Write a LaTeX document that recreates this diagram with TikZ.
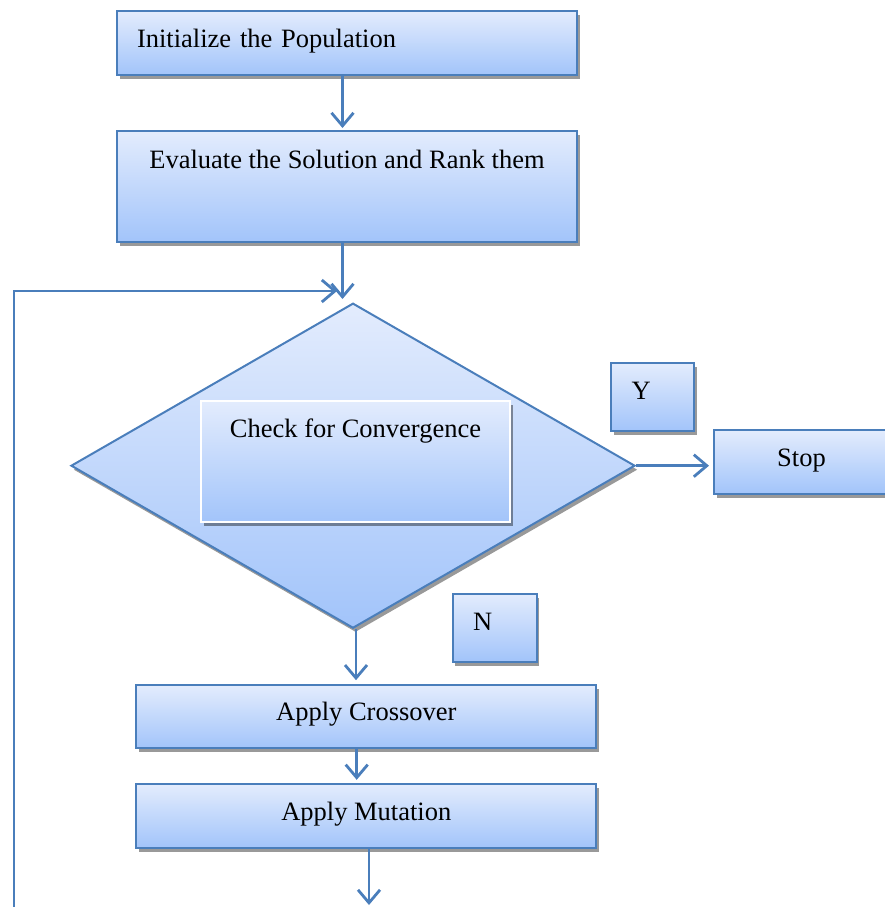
\documentclass[tikz,border=0pt]{standalone}
\usepackage{fontspec}
\setmainfont{Liberation Serif}
\usetikzlibrary{arrows.meta,shapes.geometric,shadows}
\definecolor{bord}{RGB}{74,126,187}
\definecolor{topc}{RGB}{227,236,253}
\definecolor{botc}{RGB}{162,196,250}
\begin{document}
\begin{tikzpicture}[x=1pt,y=-1pt,
  shad/.style={drop shadow={shadow xshift=2.5pt,shadow yshift=-4pt,fill=black,opacity=0.4}},
  box/.style={draw=bord,line width=2pt,top color=topc,bottom color=botc,shad,
    font=\fontsize{26.5}{32}\selectfont,inner sep=0pt,align=center,text height=18pt},
  arr/.style={draw=bord,line width=2.8pt,-{Straight Barb[length=13pt,width=22pt]}}]
\useasboundingbox (0,0) rectangle (884,907);
% boxes
\node[box,minimum width=460pt,minimum height=64pt,text width=420pt,align=left,text depth=9pt] (init) at (347,43) {Initialize the Population};
\node[box,minimum width=460pt,minimum height=111pt,text depth=55pt] (eval) at (347,186.5) {Evaluate the Solution and Rank them};
\node[diamond,draw=bord,line width=2pt,top color=topc,bottom color=botc,shad,
  minimum width=564pt,minimum height=325pt,aspect=1.735,inner sep=0pt] (dia) at (353,465.7) {};
\node[box,draw=white,minimum width=309pt,minimum height=121pt,text depth=67pt] (chk) at (355.5,461.5) {Check for Convergence};
\node[box,minimum width=83pt,minimum height=68pt,text width=42pt,align=left,text depth=13.4pt] (yes) at (652.5,397) {Y};
\node[box,minimum width=175pt,minimum height=64pt,text depth=8.6pt] (stop) at (801.5,462) {Stop};
\node[box,minimum width=84pt,minimum height=68pt,text width=43pt,align=left,text depth=13pt] (no) at (494.5,627.5) {N};
\node[box,minimum width=460pt,minimum height=63pt,text depth=11.4pt] (cross) at (366.3,716.7) {Apply Crossover};
\node[box,minimum width=460pt,minimum height=64pt,text depth=9.6pt] (mut) at (366.3,815.8) {Apply Mutation};
% coordinates
\coordinate (j1) at (342.5,299);
\coordinate (j2) at (337,291);
\coordinate (lb) at (14,912);
\coordinate (mo) at (369,905);
% connectors
\draw[arr,shorten >=2pt] ([xshift=-4.5pt]init.south) -- ([xshift=-4.5pt]eval.north);
\draw[arr] ([xshift=-4.5pt]eval.south) -- (j1);
\draw[arr] (lb) -- (lb |- j2) -- (j2);
\draw[arr,shorten >=4pt] (dia.east) -- (dia.east -| stop.west);
\draw[arr,shorten >=4pt] ([xshift=3pt]dia.south) -- ([xshift=3pt]dia.south |- cross.north);
\draw[arr,shorten >=3pt] ([xshift=-9.6pt]cross.south) -- ([xshift=-9.6pt]mut.north);
\draw[arr] ([xshift=2.7pt]mut.south) -- (mo);
\end{tikzpicture}
\end{document}
